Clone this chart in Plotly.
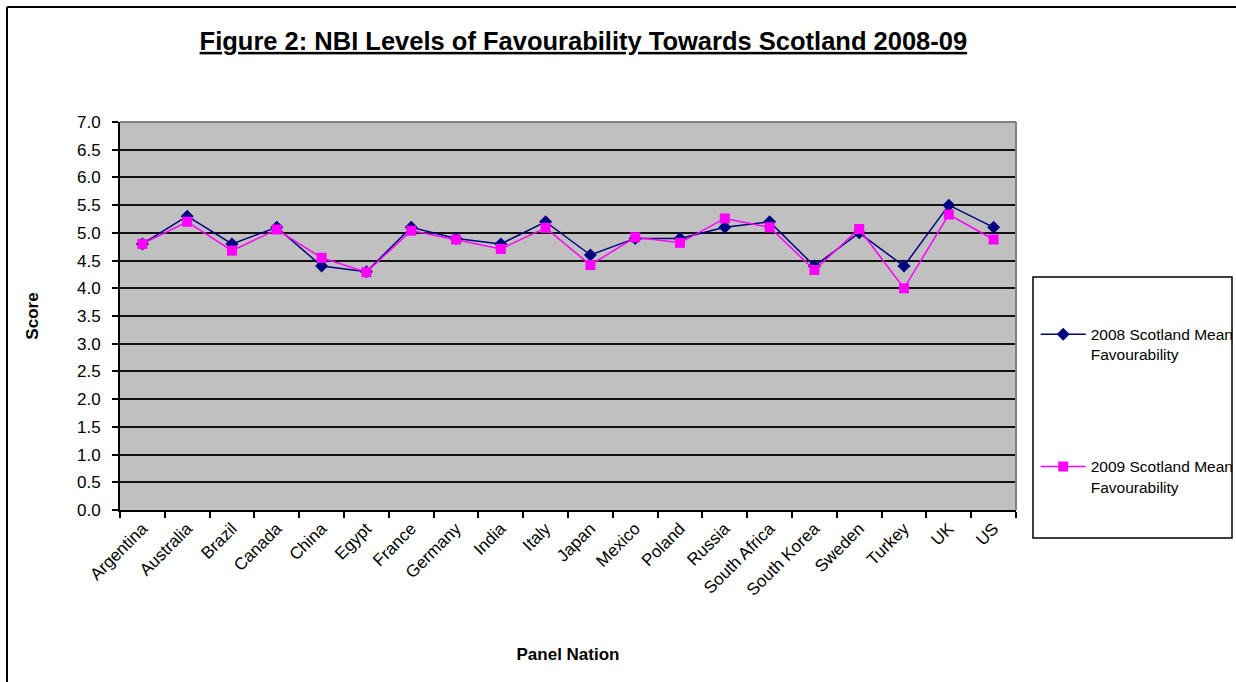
import plotly.graph_objects as go

countries = ["Argentina", "Australia", "Brazil", "Canada", "China", "Egypt", "France",
             "Germany", "India", "Italy", "Japan", "Mexico", "Poland", "Russia",
             "South Africa", "South Korea", "Sweden", "Turkey", "UK", "US"]
fav_2008 = [4.8, 5.3, 4.8, 5.1, 4.4, 4.3, 5.1, 4.9, 4.8, 5.2, 4.6, 4.9, 4.9, 5.1,
            5.2, 4.4, 5.0, 4.4, 5.5, 5.1]
fav_2009 = [4.8, 5.2, 4.68, 5.06, 4.55, 4.29, 5.04, 4.88, 4.71, 5.09, 4.42, 4.92, 4.82, 5.26,
            5.1, 4.33, 5.07, 4.0, 5.33, 4.88]
y_ticks = [i * 0.5 for i in range(15)]
y_tick_labels = [f"{v:.1f}" for v in y_ticks]

FONT = "Arial, 'Liberation Sans', sans-serif"

fig = go.Figure()
fig.add_trace(go.Scatter(
    x=countries, y=fav_2008, mode="lines+markers",
    name="2008 Scotland Mean<br>Favourability",
    line=dict(color="#000080", width=1.5),
    marker=dict(symbol="diamond", size=10, color="#000080"),
    legendgroup="a"))
fig.add_trace(go.Scatter(
    x=countries, y=fav_2009, mode="lines+markers",
    name="2009 Scotland Mean<br>Favourability",
    line=dict(color="#FF00FF", width=1.5),
    marker=dict(symbol="square", size=10, color="#FF00FF"),
    legendgroup="b"))

fig.update_layout(
    width=1236, height=682,
    margin=dict(l=120, r=220, t=122, b=172, autoexpand=False),
    paper_bgcolor="white", plot_bgcolor="#C0C0C0",
    font=dict(family=FONT, size=17, color="black"),
    title=dict(text="<b><u>Figure 2: NBI Levels of Favourability Towards Scotland 2008-09</u></b>",
               x=0.472, xanchor="center", y=0.94, yanchor="middle",
               font=dict(size=25.5, family=FONT)),
    showlegend=True,
    legend=dict(x=1.022, xanchor="left", y=0.496, yanchor="top",
                font=dict(size=15.5, family=FONT), bgcolor="rgba(0,0,0,0)",
                borderwidth=0, tracegroupgap=89, valign="top", traceorder="grouped",
                itemwidth=45),
    xaxis=dict(type="category", range=[-0.5, 19.5], tickson="boundaries",
               ticks="outside", ticklen=6,
               tickcolor="black", tickwidth=1.5, tickangle=-45,
               showline=True, linecolor="black", linewidth=2, showgrid=False,
               tickfont=dict(size=17),
               title=dict(text="<b>Panel Nation</b>", font=dict(size=17), standoff=50)),
    yaxis=dict(range=[0, 7], tickvals=y_ticks, ticktext=y_tick_labels, ticks="outside",
               ticklen=6, tickcolor="black", tickwidth=1.5, ticklabelstandoff=8,
               showline=True, linecolor="black", linewidth=2,
               showgrid=True, gridcolor="#111111", gridwidth=1.5, zeroline=False,
               tickfont=dict(size=17),
               title=dict(text="<b>Score</b>", font=dict(size=17), standoff=34)),
    shapes=[
        dict(type="line", xref="paper", yref="paper", x0=0, x1=1, y0=1, y1=1,
             line=dict(color="#808080", width=2)),
        dict(type="line", xref="paper", yref="paper", x0=1, x1=1, y0=0, y1=1,
             line=dict(color="#808080", width=2)),
        # legend frame
        dict(type="rect", xref="paper", yref="paper",
             x0=(1033 - 120) / 896, x1=(1232 - 120) / 896,
             y0=(682 - 172 - 538) / 388, y1=(682 - 172 - 277) / 388,
             line=dict(color="black", width=1.5)),
        # outer chart frame
        dict(type="line", xref="paper", yref="paper",
             x0=(7 - 120) / 896, x1=(1236 - 120) / 896,
             y0=(682 - 172 - 7) / 388, y1=(682 - 172 - 7) / 388,
             line=dict(color="black", width=2)),
        dict(type="line", xref="paper", yref="paper",
             x0=(7 - 120) / 896, x1=(7 - 120) / 896,
             y0=(682 - 172 - 7) / 388, y1=(682 - 172 - 690) / 388,
             line=dict(color="black", width=2)),
    ],
)

fig.write_html("out.html")
